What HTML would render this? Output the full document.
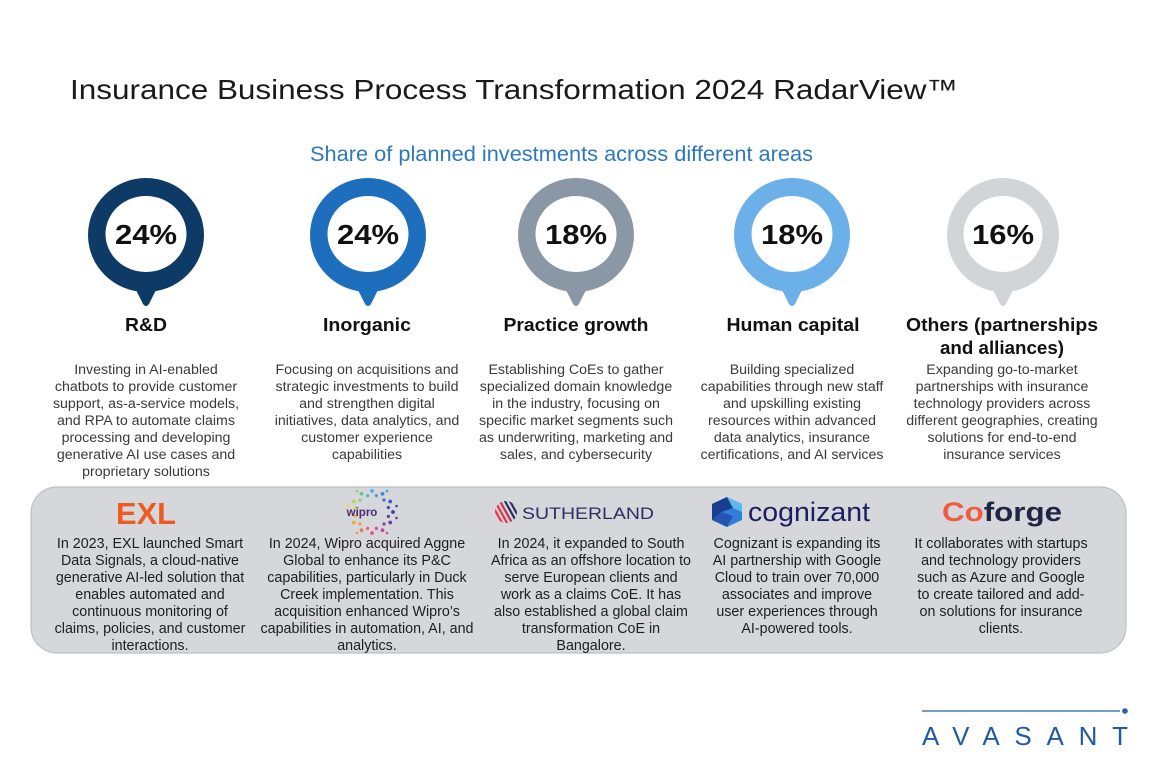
<!DOCTYPE html>
<html><head><meta charset="utf-8"><style>
html,body{margin:0;padding:0;background:#fff;}
svg{display:block;}
text{font-family:"Liberation Sans",sans-serif;}
.d{font-size:14.2px;fill:#3a3a3a;text-anchor:middle;}
.b{font-size:14.3px;fill:#1e1e1e;text-anchor:middle;}
.c{font-size:18.5px;font-weight:bold;fill:#111;text-anchor:middle;}
.p{font-size:28px;font-weight:bold;fill:#111;text-anchor:middle;}
</style></head><body>
<svg width="1152" height="768" viewBox="0 0 1152 768" xmlns="http://www.w3.org/2000/svg">
<rect width="1152" height="768" fill="#fff"/>
<text x="70" y="99" font-size="28" fill="#1a1a1a" textLength="888" lengthAdjust="spacingAndGlyphs">Insurance Business Process Transformation 2024 RadarView™</text>
<text x="310" y="161" font-size="21.5" fill="#2b78c0" textLength="503" lengthAdjust="spacingAndGlyphs">Share of planned investments across different areas</text>

<!-- pins -->
<g>
<path d="M134 286 L143 304 Q146 308 149 304 L158 286 Z" fill="#0e3a66"/>
<ellipse cx="146" cy="235" rx="58" ry="57" fill="#0e3a66"/>
<ellipse cx="146" cy="234" rx="40.5" ry="38" fill="#fff"/>
<text class="p" x="146" y="244" textLength="62" lengthAdjust="spacingAndGlyphs">24%</text>

<path d="M356 286 L365 304 Q368 308 371 304 L380 286 Z" fill="#1d6fbd"/>
<ellipse cx="368" cy="235" rx="58" ry="57" fill="#1d6fbd"/>
<ellipse cx="368" cy="234" rx="40.5" ry="38" fill="#fff"/>
<text class="p" x="368" y="244" textLength="62" lengthAdjust="spacingAndGlyphs">24%</text>

<path d="M564 286 L573 304 Q576 308 579 304 L588 286 Z" fill="#8a97a4"/>
<ellipse cx="576" cy="235" rx="58" ry="57" fill="#8a97a4"/>
<ellipse cx="576" cy="234" rx="40.5" ry="38" fill="#fff"/>
<text class="p" x="576" y="244" textLength="62" lengthAdjust="spacingAndGlyphs">18%</text>

<path d="M780 286 L789 304 Q792 308 795 304 L804 286 Z" fill="#6cb0ea"/>
<ellipse cx="792" cy="235" rx="58" ry="57" fill="#6cb0ea"/>
<ellipse cx="792" cy="234" rx="40.5" ry="38" fill="#fff"/>
<text class="p" x="792" y="244" textLength="62" lengthAdjust="spacingAndGlyphs">18%</text>

<path d="M991 286 L1000 304 Q1003 308 1006 304 L1015 286 Z" fill="#d2d5d8"/>
<ellipse cx="1003" cy="235" rx="56" ry="57" fill="#d2d5d8"/>
<ellipse cx="1003" cy="234" rx="39.5" ry="38" fill="#fff"/>
<text class="p" x="1003" y="244" textLength="62" lengthAdjust="spacingAndGlyphs">16%</text>
</g>

<!-- category labels -->
<text class="c" x="146" y="331" textLength="42" lengthAdjust="spacingAndGlyphs">R&amp;D</text>
<text class="c" x="367" y="331" textLength="88" lengthAdjust="spacingAndGlyphs">Inorganic</text>
<text class="c" x="576" y="331" textLength="145" lengthAdjust="spacingAndGlyphs">Practice growth</text>
<text class="c" x="793" y="331" textLength="133" lengthAdjust="spacingAndGlyphs">Human capital</text>
<text class="c" x="1002" y="331" textLength="192" lengthAdjust="spacingAndGlyphs">Others (partnerships</text>
<text class="c" x="1002" y="354" textLength="124" lengthAdjust="spacingAndGlyphs">and alliances)</text>

<!-- descriptions -->
<g class="d">
<text x="146" y="374">Investing in AI-enabled</text>
<text x="146" y="391">chatbots to provide customer</text>
<text x="146" y="408">support, as-a-service models,</text>
<text x="146" y="425">and RPA to automate claims</text>
<text x="146" y="442">processing and developing</text>
<text x="146" y="459">generative AI use cases and</text>
<text x="146" y="476">proprietary solutions</text>

<text x="367" y="374">Focusing on acquisitions and</text>
<text x="367" y="391">strategic investments to build</text>
<text x="367" y="408">and strengthen digital</text>
<text x="367" y="425">initiatives, data analytics, and</text>
<text x="367" y="442">customer experience</text>
<text x="367" y="459">capabilities</text>

<text x="576" y="374">Establishing CoEs to gather</text>
<text x="576" y="391">specialized domain knowledge</text>
<text x="576" y="408">in the industry, focusing on</text>
<text x="576" y="425">specific market segments such</text>
<text x="576" y="442">as underwriting, marketing and</text>
<text x="576" y="459">sales, and cybersecurity</text>

<text x="792" y="374">Building specialized</text>
<text x="792" y="391">capabilities through new staff</text>
<text x="792" y="408">and upskilling existing</text>
<text x="792" y="425">resources within advanced</text>
<text x="792" y="442">data analytics, insurance</text>
<text x="792" y="459">certifications, and AI services</text>

<text x="1002" y="374">Expanding go-to-market</text>
<text x="1002" y="391">partnerships with insurance</text>
<text x="1002" y="408">technology providers across</text>
<text x="1002" y="425">different geographies, creating</text>
<text x="1002" y="442">solutions for end-to-end</text>
<text x="1002" y="459">insurance services</text>
</g>

<!-- gray box -->
<rect x="31" y="487" width="1095" height="166" rx="26" ry="26" fill="#d5d7da" stroke="#bcc0c4" stroke-width="1.2"/>

<!-- EXL logo -->
<text x="146" y="524" font-size="31" font-weight="bold" fill="#f05a22" text-anchor="middle" textLength="60" lengthAdjust="spacingAndGlyphs">EXL</text>

<!-- Wipro logo -->
<g>
<circle cx="393" cy="512" r="1.9" fill="#4a3a9a"/>
<circle cx="390.2" cy="522.5" r="1.9" fill="#6a3fa0"/>
<circle cx="382.5" cy="530.2" r="1.9" fill="#c04a9a"/>
<circle cx="372" cy="533" r="1.9" fill="#e8508a"/>
<circle cx="361.5" cy="530.2" r="1.9" fill="#f07a5a"/>
<circle cx="353.8" cy="522.5" r="1.9" fill="#f5a83a"/>
<circle cx="351" cy="512" r="1.9" fill="#f2d338"/>
<circle cx="353.8" cy="501.5" r="1.9" fill="#b8d84a"/>
<circle cx="361.5" cy="493.8" r="1.9" fill="#6cc68a"/>
<circle cx="372" cy="491" r="1.9" fill="#42b7d6"/>
<circle cx="382.5" cy="493.8" r="1.9" fill="#3a8ad0"/>
<circle cx="390.2" cy="501.5" r="1.9" fill="#3a5cc0"/>
<circle cx="388.4" cy="516.4" r="1.6" fill="#5a3aa0"/>
<circle cx="384" cy="524" r="1.6" fill="#8a3f9e"/>
<circle cx="376.4" cy="528.4" r="1.6" fill="#d84a90"/>
<circle cx="367.6" cy="528.4" r="1.6" fill="#ee6470"/>
<circle cx="360" cy="524" r="1.6" fill="#f59240"/>
<circle cx="355.6" cy="516.4" r="1.6" fill="#f5c03a"/>
<circle cx="355.6" cy="507.6" r="1.6" fill="#d8dc40"/>
<circle cx="360" cy="500" r="1.6" fill="#8ccf70"/>
<circle cx="367.6" cy="495.6" r="1.6" fill="#50bcc0"/>
<circle cx="376.4" cy="495.6" r="1.6" fill="#3aa0da"/>
<circle cx="384" cy="500" r="1.6" fill="#3a70c8"/>
<circle cx="388.4" cy="507.6" r="1.6" fill="#3e48b0"/>
<circle cx="396.5" cy="506" r="1.3" fill="#4a3a9a"/>
<circle cx="396.5" cy="518" r="1.3" fill="#5a3aa0"/>
<circle cx="387" cy="533" r="1.3" fill="#d84a90"/>
<circle cx="357" cy="533" r="1.3" fill="#f59240"/>
<circle cx="347.5" cy="506" r="1.3" fill="#f2d338"/>
<circle cx="357" cy="491" r="1.3" fill="#8ccf70"/>
<circle cx="387" cy="491" r="1.3" fill="#3aa0da"/>
<text x="362" y="516" font-size="11.5" font-weight="bold" fill="#4d2c7f" text-anchor="middle">wipro</text>
</g>

<!-- Sutherland logo -->
<defs><clipPath id="sc"><circle cx="506" cy="512" r="11"/></clipPath></defs>
<g clip-path="url(#sc)" stroke-width="2.2">
<line x1="486" y1="494" x2="506" y2="530" stroke="#e63346"/>
<line x1="491" y1="494" x2="511" y2="530" stroke="#e63346"/>
<line x1="496" y1="494" x2="516" y2="530" stroke="#c83050"/>
<line x1="501" y1="494" x2="521" y2="530" stroke="#2b2f64"/>
<line x1="506" y1="494" x2="526" y2="530" stroke="#2b2f64"/>
<line x1="511" y1="494" x2="531" y2="530" stroke="#2b2f64"/>
</g>
<text x="522" y="519" font-size="17" fill="#2b2f64" textLength="132" lengthAdjust="spacingAndGlyphs">SUTHERLAND</text>

<!-- Cognizant logo -->
<polygon points="727,497 742,504 742,520 727,527 712,520 712,504" fill="#2f7fd8"/>
<polygon points="712,504 727,497 733,508 721,512 712,520" fill="#1a3d8f"/>
<polygon points="727,497 742,504 742,512 733,508" fill="#5db8ef"/>
<polygon points="721,512 733,516 727,527 712,520" fill="#2456b0"/>
<text x="748" y="521" font-size="27" fill="#1b1f5f" textLength="122" lengthAdjust="spacingAndGlyphs">cognizant</text>

<!-- Coforge logo -->
<text x="942" y="521" font-size="27" font-weight="bold" textLength="120" lengthAdjust="spacingAndGlyphs"><tspan fill="#f15b40">Co</tspan><tspan fill="#1f2544">forge</tspan></text>

<!-- bottom texts -->
<g class="b">
<text x="150" y="548">In 2023, EXL launched Smart</text>
<text x="150" y="565">Data Signals, a cloud-native</text>
<text x="150" y="582">generative AI-led solution that</text>
<text x="150" y="599">enables automated and</text>
<text x="150" y="616">continuous monitoring of</text>
<text x="150" y="633">claims, policies, and customer</text>
<text x="150" y="650">interactions.</text>

<text x="367" y="548">In 2024, Wipro acquired Aggne</text>
<text x="367" y="565">Global to enhance its P&amp;C</text>
<text x="367" y="582">capabilities, particularly in Duck</text>
<text x="367" y="599">Creek implementation. This</text>
<text x="367" y="616">acquisition enhanced Wipro’s</text>
<text x="367" y="633">capabilities in automation, AI, and</text>
<text x="367" y="650">analytics.</text>

<text x="591" y="548">In 2024, it expanded to South</text>
<text x="591" y="565">Africa as an offshore location to</text>
<text x="591" y="582">serve European clients and</text>
<text x="591" y="599">work as a claims CoE. It has</text>
<text x="591" y="616">also established a global claim</text>
<text x="591" y="633">transformation CoE in</text>
<text x="591" y="650">Bangalore.</text>

<text x="797" y="548">Cognizant is expanding its</text>
<text x="797" y="565">AI partnership with Google</text>
<text x="797" y="582">Cloud to train over 70,000</text>
<text x="797" y="599">associates and improve</text>
<text x="797" y="616">user experiences through</text>
<text x="797" y="633">AI-powered tools.</text>

<text x="1001" y="548">It collaborates with startups</text>
<text x="1001" y="565">and technology providers</text>
<text x="1001" y="582">such as Azure and Google</text>
<text x="1001" y="599">to create tailored and add-</text>
<text x="1001" y="616">on solutions for insurance</text>
<text x="1001" y="633">clients.</text>
</g>

<!-- Avasant logo -->
<line x1="922" y1="711" x2="1120" y2="711" stroke="#2a5fa6" stroke-width="1.3"/>
<circle cx="1125" cy="711" r="2.8" fill="#2a5fa6"/>
<text x="922" y="745" font-size="26" fill="#1f5aa5" textLength="206" lengthAdjust="spacing">AVASANT</text>
</svg>
</body></html>
